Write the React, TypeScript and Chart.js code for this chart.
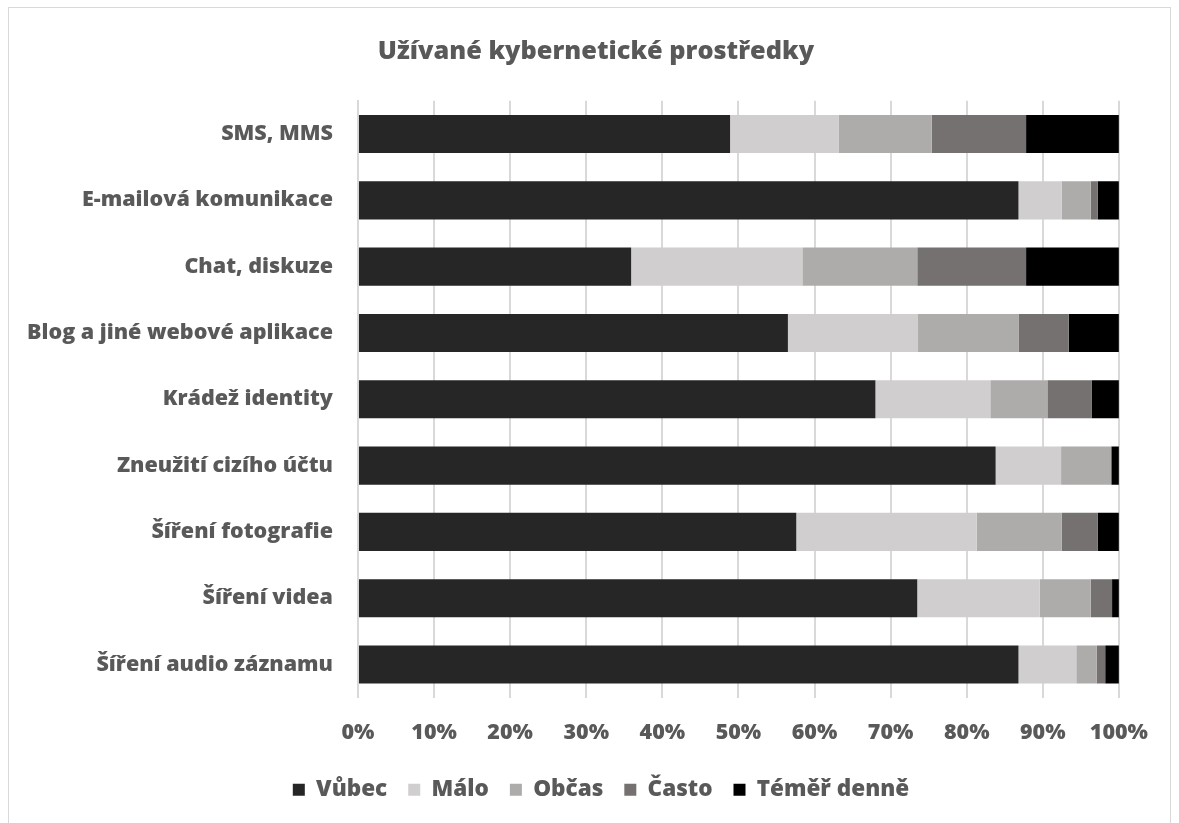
import React, { useEffect, useRef } from "react";
import { Chart, registerables } from "chart.js";

Chart.register(...registerables);

const title = "Užívané kybernetické prostředky";
const categories = [
  "SMS, MMS",
  "E-mailová komunikace",
  "Chat, diskuze",
  "Blog a jiné webové aplikace",
  "Krádež identity",
  "Zneužití cizího účtu",
  "Šíření fotografie",
  "Šíření videa",
  "Šíření audio záznamu",
];
const seriesNames = ["Vůbec", "Málo", "Občas", "Často", "Téměř denně"];
const vubec = [48.9, 86.8, 35.9, 56.5, 68.0, 83.8, 57.6, 73.5, 86.8];
const malo = [14.3, 5.7, 22.5, 17.1, 15.1, 8.6, 23.7, 16.1, 7.6];
const obcas = [12.2, 3.8, 15.1, 13.2, 7.5, 6.6, 11.2, 6.7, 2.7];
const casto = [12.4, 0.9, 14.3, 6.6, 5.8, 0.0, 4.7, 2.8, 1.1];
const temer = [12.2, 2.8, 12.2, 6.6, 3.6, 1.0, 2.8, 0.9, 1.8];
const xTicks = [0, 10, 20, 30, 40, 50, 60, 70, 80, 90, 100];

const colors = ["#262626", "#d0cece", "#aeabab", "#767171", "#000000"];
const textColor = "#595959";
const fontFamily = "'Open Sans', sans-serif";

const legendShift = { dx: 23, dy: -10 };
const titleShift = { dx: 18 };

const shiftBoxesPlugin = {
  id: "shiftBoxes",
  afterLayout(chart: any) {
    const lg = chart.legend;
    if (lg) {
      lg.left += legendShift.dx;
      lg.right += legendShift.dx;
      lg.top += legendShift.dy;
      lg.bottom += legendShift.dy;
    }
    const tt = chart.titleBlock;
    if (tt) {
      tt.left += titleShift.dx;
      tt.right += titleShift.dx;
    }
  },
};

export default function App() {
  const ref = useRef<HTMLCanvasElement | null>(null);
  useEffect(() => {
    if (!ref.current) return;
    const values = [vubec, malo, obcas, casto, temer];
    const chart = new Chart(ref.current, {
      type: "bar",
      data: {
        labels: categories,
        datasets: seriesNames.map((name, i) => ({
          label: name,
          data: values[i],
          backgroundColor: colors[i],
          borderWidth: 0,
          categoryPercentage: 1,
          barPercentage: 0.575,
        })),
      },
      plugins: [shiftBoxesPlugin],
      options: {
        indexAxis: "y",
        animation: false,
        responsive: false,
        maintainAspectRatio: false,
        layout: { padding: { left: -7, right: 16, top: 0, bottom: 3 } },
        plugins: {
          title: {
            display: true,
            text: title,
            color: textColor,
            font: { family: fontFamily, size: 25.3, weight: 800 },
            padding: { top: 29, bottom: 33.5 },
          },
          legend: {
            position: "bottom",
            labels: {
              color: textColor,
              font: { family: fontFamily, size: 22.5, weight: 800 },
              boxWidth: 12,
              boxHeight: 12,
              padding: 21,
            },
          },
          tooltip: { enabled: false },
        },
        scales: {
          x: {
            stacked: true,
            min: 0,
            max: 100,
            afterBuildTicks: (axis: any) => {
              axis.ticks = xTicks.map((v) => ({ value: v }));
            },
            ticks: {
              color: textColor,
              font: { family: fontFamily, size: 21.5, weight: 800 },
              padding: 22,
              maxRotation: 0,
              callback: (v: any) => v + "%",
            },
            grid: { color: "#d9d9d9", lineWidth: 2, drawTicks: false },
            border: { display: false },
          },
          y: {
            stacked: true,
            ticks: {
              color: textColor,
              font: { family: fontFamily, size: 21.5, weight: 800 },
              padding: 25,
            },
            grid: { display: false, drawTicks: false },
            border: { display: true, color: "#d9d9d9", width: 2 },
          },
        },
      },
    });
    return () => chart.destroy();
  }, []);
  return (
    <div
      style={{
        position: "absolute",
        left: 8,
        top: 7,
        width: 1161,
        height: 830,
        border: "1px solid #d9d9d9",
        background: "#fff",
      }}
    >
      <canvas ref={ref} width={1161} height={816} style={{ display: "block" }} />
    </div>
  );
}
